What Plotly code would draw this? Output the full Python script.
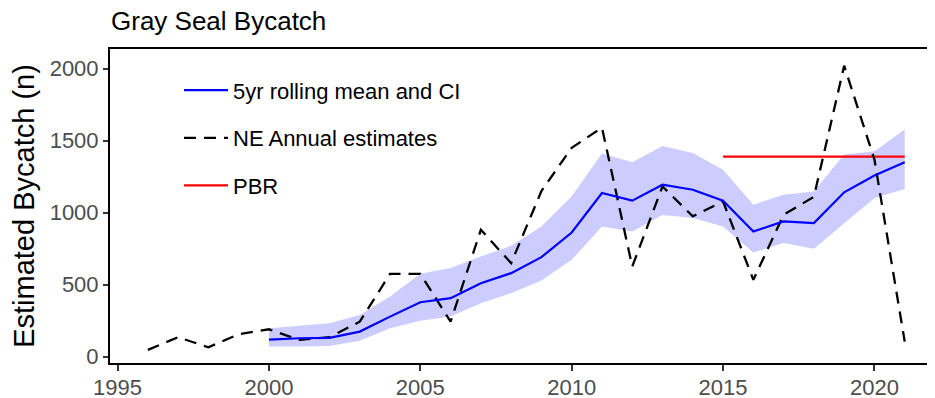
import plotly.graph_objects as go

# ---- data ----
ne_years = list(range(1996, 2022))
ne_annual = [47, 135, 65, 156, 190, 116, 135, 243, 575, 575, 243, 881, 649,
             1150, 1450, 1590, 626, 1182, 974, 1078, 533, 985, 1110, 2020, 1368, 104]

roll_years = list(range(2000, 2022))
roll_mean = [118, 128, 130, 174, 278, 378, 406, 510, 580, 691, 862, 1136, 1083,
             1194, 1159, 1083, 869, 939, 927, 1141, 1257, 1349]
roll_upper = [197, 213, 232, 290, 417, 575, 615, 696, 770, 904, 1113, 1410, 1349,
              1462, 1414, 1298, 1055, 1124, 1147, 1403, 1426, 1577]
roll_lower = [70, 70, 74, 111, 197, 250, 278, 371, 441, 529, 672, 904, 869,
              983, 962, 904, 723, 789, 749, 928, 1101, 1164]

pbr_years = [2015, 2021]
pbr_value = [1389, 1389]

x_ticks = [1995, 2000, 2005, 2010, 2015, 2020]
y_ticks = [0, 500, 1000, 1500, 2000]

FONT = "Liberation Sans, Arial, Helvetica, sans-serif"

# page body has an 8px default margin, so the figure is sized to fill the rest
W, H = 927, 390

fig = go.Figure()

# CI band
fig.add_trace(go.Scatter(
    x=roll_years + roll_years[::-1],
    y=roll_upper + roll_lower[::-1],
    fill="toself", fillcolor="rgba(0,0,255,0.2)",
    line=dict(width=0), mode="lines", hoverinfo="skip", showlegend=False,
))

# PBR
fig.add_trace(go.Scatter(
    x=pbr_years, y=pbr_value, mode="lines", name="PBR",
    line=dict(color="#FF0000", width=2.2), legendgroup="c", legendrank=3,
))

# NE annual estimates
fig.add_trace(go.Scatter(
    x=ne_years, y=ne_annual, mode="lines", name="NE Annual estimates",
    line=dict(color="black", width=2.3, dash="12px,8px"), legendgroup="b", legendrank=2,
))

# rolling mean
fig.add_trace(go.Scatter(
    x=roll_years, y=roll_mean, mode="lines", name="5yr rolling mean and CI",
    line=dict(color="#0000FF", width=2.2), legendgroup="a", legendrank=1,
))

fig.update_layout(
    width=W, height=H,
    margin=dict(l=102, r=0, t=41, b=35),
    paper_bgcolor="white", plot_bgcolor="white",
    font=dict(family=FONT, color="black"),
    title=dict(text="Gray Seal Bycatch", x=103 / W, xref="container", xanchor="left",
               y=1 - 13 / H, yref="container", yanchor="middle",
               font=dict(size=26, color="black", family=FONT)),
    legend=dict(x=(171 - 102) / 825, xanchor="left", y=0.935, yanchor="top",
                bgcolor="rgba(0,0,0,0)", font=dict(size=22, color="black", family=FONT),
                tracegroupgap=16, itemwidth=44),
    showlegend=True,
)
fig.update_xaxes(
    range=[1994.75, 2022.0], tickvals=x_ticks, ticktext=[str(v) for v in x_ticks],
    showgrid=False, zeroline=False, showline=True, linecolor="black", linewidth=2,
    mirror=True, ticks="outside", ticklen=6, tickwidth=2, tickcolor="#333333",
    tickfont=dict(size=22, color="#4d4d4d", family=FONT), automargin=False,
    ticklabelstandoff=-2,
)
fig.update_yaxes(
    range=[-44, 2136], tickvals=y_ticks, ticktext=[str(v) for v in y_ticks],
    showgrid=False, zeroline=False, showline=True, linecolor="black", linewidth=2,
    ticks="outside", ticklen=5, tickwidth=2, tickcolor="#333333",
    tickfont=dict(size=22, color="#4d4d4d", family=FONT), automargin=False,
    title=dict(text="Estimated Bycatch (n)", font=dict(size=29, color="black", family=FONT),
               standoff=11),
)

fig.write_html("out.html")
